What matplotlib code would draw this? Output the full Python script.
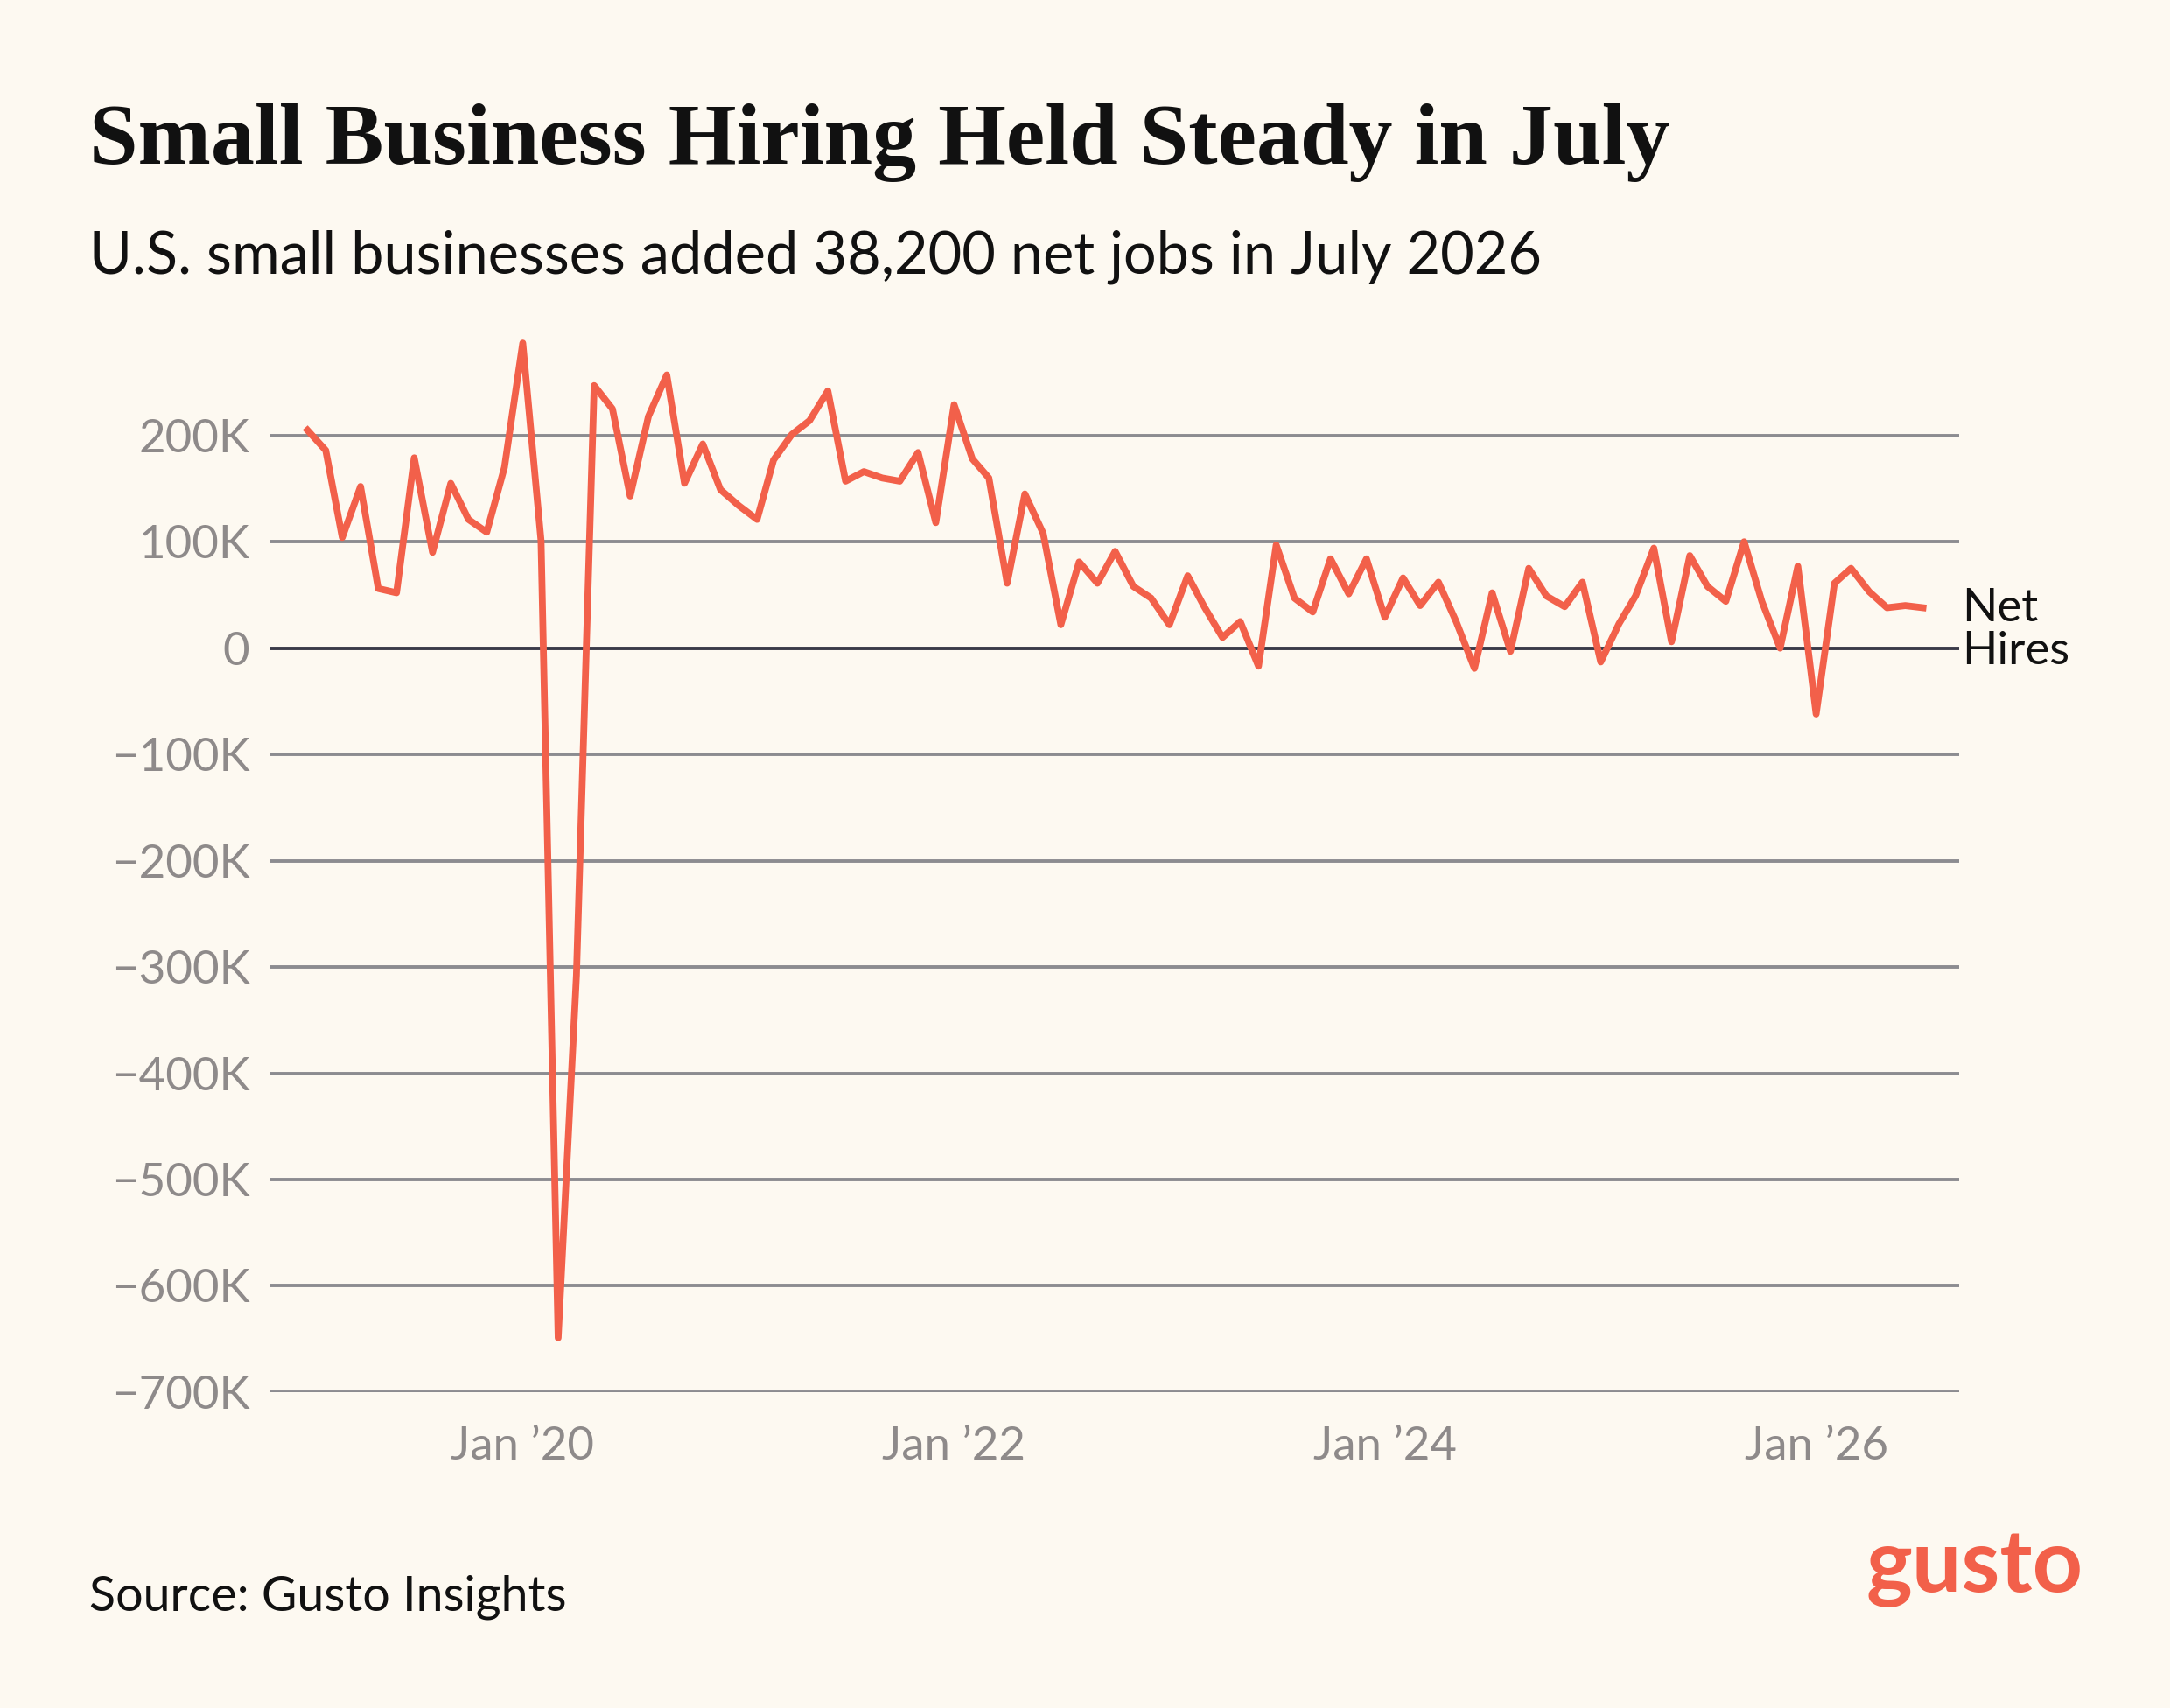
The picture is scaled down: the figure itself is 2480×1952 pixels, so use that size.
import matplotlib.pyplot as plt
import numpy as np
import pandas as pd

plt.rcParams['font.family'] = ['Lato', 'DejaVu Sans']

months = pd.date_range('2019-01-01', '2026-07-01', freq='MS')
net_hires = [
    205, 186, 104, 152, 56, 52, 179, 90, 155, 121, 109, 170,
    287, 101, -649, -308, 247, 225, 143, 218, 257, 155, 192, 149,
    134, 121, 177, 201, 214, 242, 157, 166, 160, 157, 184, 118,
    229, 178, 160, 61, 145, 108, 22, 81, 61, 91, 58, 47,
    22, 68, 39, 10, 25, -17, 97, 47, 34, 84, 51, 84,
    29, 66, 40, 62, 25, -19, 52, -3, 75, 49, 39, 62,
    -13, 23, 49, 94, 6, 87, 58, 44, 100, 44, 0, 77,
    -62, 61, 75, 53, 38, 40, 38,
]
yticks = [200, 100, 0, -100, -200, -300, -400, -500, -600, -700]
ytick_labels = ['200K', '100K', '0', '\u2212100K', '\u2212200K', '\u2212300K',
                '\u2212400K', '\u2212500K', '\u2212600K', '\u2212700K']
xtick_dates = pd.to_datetime(['2020-01-01', '2022-01-01', '2024-01-01', '2026-01-01'])
xtick_labels = ['Jan \u201920', 'Jan \u201922', 'Jan \u201924', 'Jan \u201926']

bg = '#FDF9F1'
red = '#F2604A'
gray = '#8E8A8A'

fig = plt.figure(figsize=(12.4, 9.76), dpi=200, facecolor=bg)
ax = fig.add_axes([0.124, 0.185, 0.779, 0.616], facecolor=bg)

for y in yticks:
    ax.axhline(y, color='#3A3A48' if y == 0 else '#8C8C90', lw=1.4, zorder=1)
ax.plot(months, net_hires, color=red, lw=2.8, zorder=3)

ax.set_ylim(-700, 290)
ax.set_xlim(pd.Timestamp('2018-10-28'), pd.Timestamp('2026-09-01'))
ax.set_yticks(yticks)
ax.set_yticklabels(ytick_labels)
ax.set_xticks(xtick_dates)
ax.set_xticklabels(xtick_labels)
ax.tick_params(length=0, labelsize=19, colors=gray, pad=8)
ax.tick_params(axis='x', pad=14)
for s in ax.spines.values():
    s.set_visible(False)

fig.text(0.904, 0.631, 'Net\nHires', fontsize=19, va='center', ha='left',
         linespacing=1.05, color='#111111')

fig.text(0.041, 0.904, 'Small Business Hiring Held Steady in July',
         fontsize=36, family='Liberation Serif', fontweight='semibold',
         color='#111111', va='baseline')
fig.text(0.041, 0.84, 'U.S. small businesses added 38,200 net jobs in July 2026',
         fontsize=24, color='#111111', va='baseline')
fig.text(0.041, 0.057, 'Source: Gusto Insights', fontsize=20, color='#111111',
         va='baseline')
fig.text(0.96, 0.068, 'gusto', fontsize=36, fontweight='bold', color=red,
         ha='right', va='baseline')

fig.savefig('out.png', dpi=200, facecolor=bg)
